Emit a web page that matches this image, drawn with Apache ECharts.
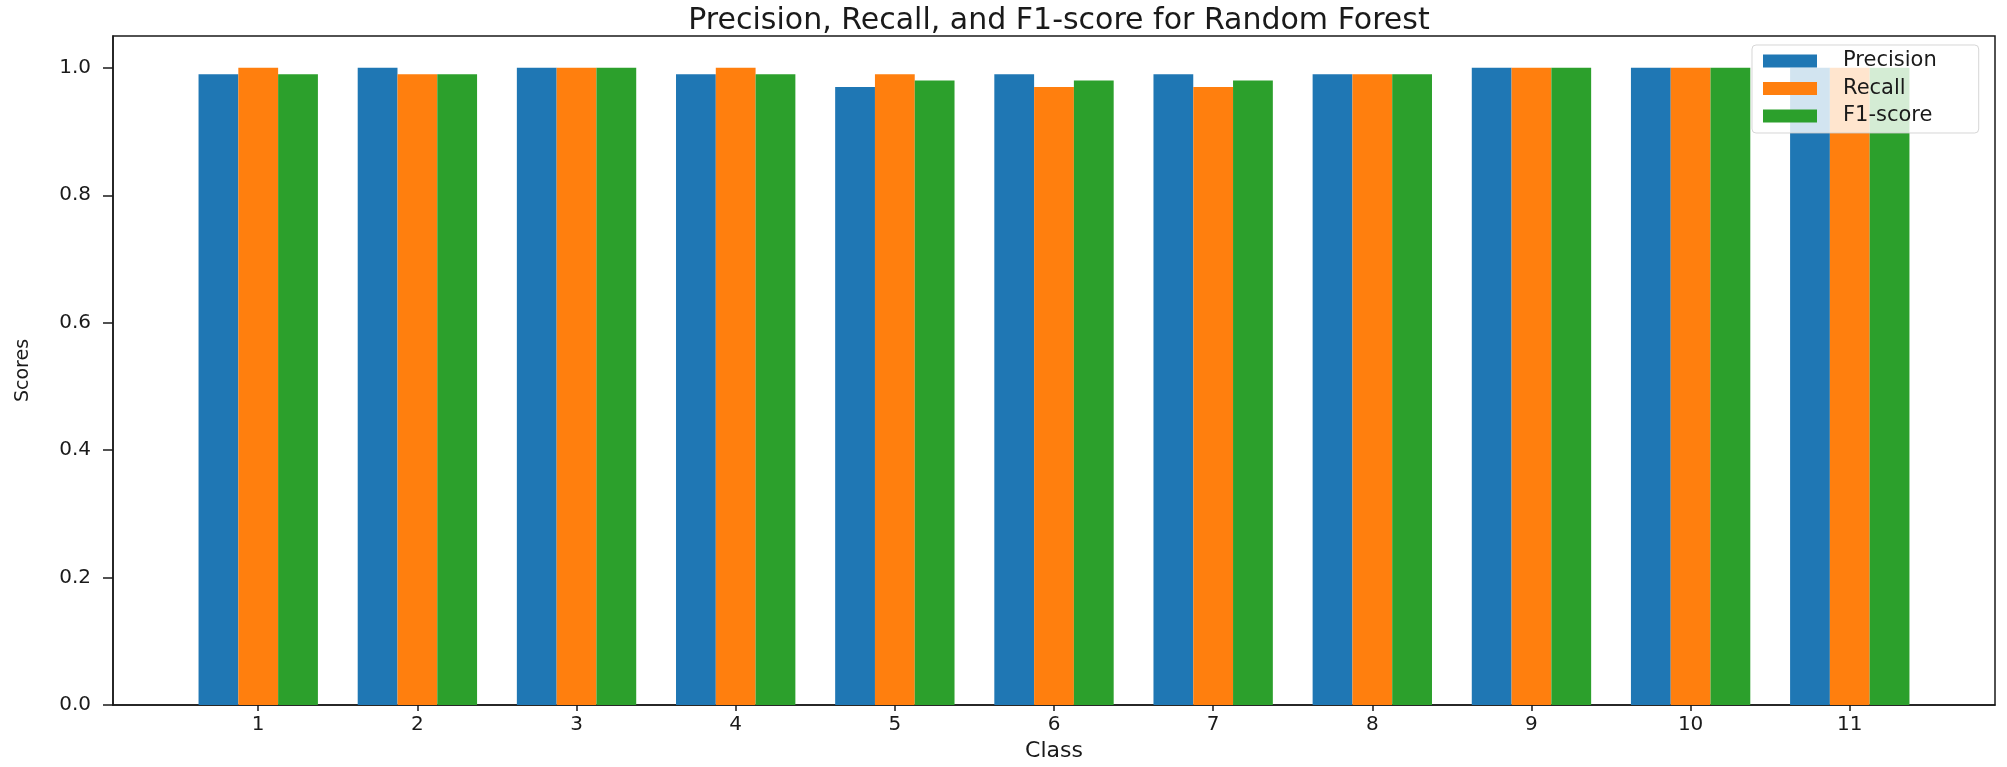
<!DOCTYPE html>
<html>
<head>
<meta charset="utf-8">
<script src="https://cdn.jsdelivr.net/npm/echarts@6/dist/echarts.min.js"></script>
<style>
  html, body { margin: 0; padding: 0; background: #fff; }
  #chart { width: 2007px; height: 767px; }
</style>
</head>
<body>
<div id="chart"></div>
<script>
const classes = ['1', '2', '3', '4', '5', '6', '7', '8', '9', '10', '11'];
const precision = [0.99, 1.00, 1.00, 0.99, 0.97, 0.99, 0.99, 0.99, 1.00, 1.00, 1.00];
const recall    = [1.00, 0.99, 1.00, 1.00, 0.99, 0.97, 0.97, 0.99, 1.00, 1.00, 1.00];
const f1score   = [0.99, 0.99, 1.00, 0.99, 0.98, 0.98, 0.98, 0.99, 1.00, 1.00, 1.00];
const yTicks = [0, 0.2, 0.4, 0.6, 0.8, 1.0];

const seriesNames = ['Precision', 'Recall', 'F1-score'];
const seriesData = [precision, recall, f1score];
const colors = ['#1f77b4', '#ff7f0e', '#2ca02c'];

const FONT = 'DejaVu Sans';
const TEXT = '#1a1a1a';
const W = 2007;
const grid = { left: 113, right: 12, top: 36, bottom: 62 };
const barFrac = 0.25;
const xMinV = -0.9125, xMaxV = classes.length - 1 + 0.9125;
const unitPx = (W - grid.left - grid.right) / (xMaxV - xMinV);
const barW = unitPx * barFrac;

const chart = echarts.init(document.getElementById('chart'));
const series = seriesNames.map((name, s) => ({
  name,
  type: 'bar',
  barWidth: barW,
  barGap: '-100%',
  itemStyle: { color: colors[s] },
  data: seriesData[s].map((v, i) => [i + (s - 1) * barFrac, v])
}));

chart.setOption({
  animation: false,
  backgroundColor: '#fff',
  textStyle: { fontFamily: FONT },
  title: {
    text: 'Precision, Recall, and F1-score for Random Forest',
    left: (grid.left + W - grid.right) / 2,
    textAlign: 'center',
    top: 1,
    textStyle: { fontFamily: FONT, fontSize: 30, fontWeight: 'normal', color: TEXT }
  },
  legend: {
    orient: 'vertical',
    left: 1752,
    top: 45,
    padding: [5.5, 42, 6.5, 11],
    itemWidth: 54,
    itemHeight: 13,
    itemGap: 6.5,
    icon: 'rect',
    backgroundColor: 'rgba(255,255,255,0.8)',
    borderColor: 'rgba(204,204,204,0.8)',
    borderWidth: 1,
    borderRadius: 4,
    z: 10,
    formatter: name => '{g| }{t|' + name + '}',
    textStyle: {
      fontFamily: FONT, fontSize: 21, color: TEXT,
      rich: {
        g: { fontFamily: FONT, fontSize: 21, width: 21 },
        t: { fontFamily: FONT, fontSize: 21, color: TEXT }
      }
    },
    data: seriesNames
  },
  grid: {
    left: grid.left, right: grid.right, top: grid.top, bottom: grid.bottom,
    show: true, borderColor: '#1a1a1a', borderWidth: 1.5, backgroundColor: 'transparent'
  },
  xAxis: {
    type: 'value',
    min: xMinV,
    max: xMaxV,
    name: 'Class',
    nameLocation: 'middle',
    nameGap: 34,
    nameTextStyle: { fontFamily: FONT, fontSize: 22, color: TEXT },
    splitLine: { show: false },
    axisLine: { show: true, onZero: false, lineStyle: { color: '#1a1a1a', width: 1.5 } },
    axisTick: { show: true, length: 6, customValues: classes.map((c, i) => i), lineStyle: { color: '#1a1a1a', width: 1.5 } },
    axisLabel: {
      customValues: classes.map((c, i) => i),
      formatter: v => classes[Math.round(v)],
      fontFamily: FONT, fontSize: 20, color: TEXT, margin: 10
    }
  },
  yAxis: {
    type: 'value',
    min: 0,
    max: 1.05,
    name: 'Scores',
    nameLocation: 'middle',
    nameGap: 80,
    nameTextStyle: { fontFamily: FONT, fontSize: 19, color: TEXT },
    splitLine: { show: false },
    axisLine: { show: true, onZero: false, lineStyle: { color: '#1a1a1a', width: 1.5 } },
    axisTick: { show: true, length: 10, customValues: yTicks, lineStyle: { color: '#1a1a1a', width: 1.5 } },
    axisLabel: {
      customValues: yTicks,
      formatter: v => v.toFixed(1),
      fontFamily: FONT, fontSize: 20, color: TEXT, margin: 22
    }
  },
  series
});
</script>
</body>
</html>
